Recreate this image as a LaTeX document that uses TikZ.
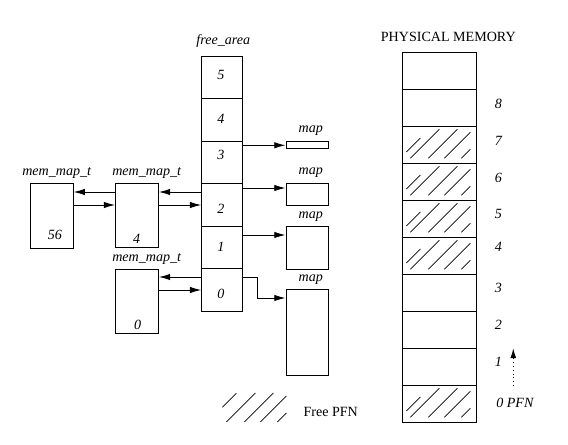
\documentclass[tikz,border=0pt]{standalone}
\usepackage{fontspec}
\setmainfont{Liberation Serif}
\usetikzlibrary{positioning}
\usetikzlibrary{arrows.meta}
\tikzset{
    memnode/.style = {rectangle, draw=black, line width=0.7pt, inner sep=0pt, minimum width=1.07cm, minimum height=1.61cm},
    areanode/.style = {rectangle, draw=black, line width=0.7pt, inner sep=0pt, minimum width=1.03cm, minimum height=1.0625cm},
    mapnode/.style = {rectangle, draw=black, line width=0.7pt, inner sep=0pt, minimum width=1.05cm},
    physnode/.style = {rectangle, draw=black, line width=0.7pt, inner sep=0pt, minimum width=1.86cm, minimum height=0.925cm},
    txt/.style = {inner sep=0pt, anchor=base, font=\itshape},
    txtr/.style = {inner sep=0pt, anchor=base},
    edgen/.style = {-{Latex[length=8pt,width=4.6pt]}, line width=0.7pt, black},
    edged/.style = {-{Latex[length=7pt,width=4.2pt]}, line width=0.7pt, black, dotted},
    hatch/.pic = {\draw[line width=0.5pt] (0,#1) -- (14,#1-14) (4,29) -- (33,0) (22,29) -- (51,0) (38,29) -- (64,3) (55,29) -- (64,20);}
}

\begin{document}
\begin{tikzpicture}[x=0.025cm, y=-0.025cm]
\useasboundingbox (0,0) rectangle (568,445);

% free_area
\node[txt] at (223.3, 45) (fatitle) {free\_area};
\node[areanode] at (222.3, 77.3) (a5) {};
\node[areanode] at (222.3, 119.8) (a4) {};
\node[areanode] at (222.3, 162.3) (a3) {};
\node[areanode] at (222.3, 204.8) (a2) {};
\node[areanode] at (222.3, 247.3) (a1) {};
\node[areanode] at (222.3, 289.8) (a0) {};
\node[txt] at (221, 80) (n5) {5};
\node[txt] at (221, 124) (n4) {4};
\node[txt] at (221, 159.3) (n3) {3};
\node[txt] at (221, 214) (n2) {2};
\node[txt] at (221, 251.7) (n1) {1};
\node[txt] at (221, 298.3) (n0) {0};

% mem_map_t
\node[txt] at (56.7, 176) (t56) {mem\_map\_t};
\node[txt] at (146.7, 176) (t4) {mem\_map\_t};
\node[txt] at (146.7, 261.5) (t0) {mem\_map\_t};
\node[memnode] at (51.7, 215.8) (b56) {};
\node[memnode] at (137, 215.3) (b4) {};
\node[memnode] at (137, 301.3) (b0) {};
\node[txt] at (55, 239.3) (k56) {56};
\node[txt] at (136.7, 244) (k4) {4};
\node[txt] at (137.7, 329.3) (k0) {0};

% map
\node[mapnode, minimum height=0.18cm] at (307, 145.3) (m3) {};
\node[mapnode, minimum height=0.54cm] at (307, 194.2) (m2) {};
\node[mapnode, minimum height=1.065cm] at (307, 248) (m1) {};
\node[mapnode, minimum height=2.125cm] at (307, 332.5) (m0) {};
\node[txt] at (310.8, 132.5) (l3) {map};
\node[txt] at (310.8, 174.5) (l2) {map};
\node[txt] at (310.8, 218.5) (l1) {map};
\node[txt] at (310.8, 281.5) (l0) {map};

% physical memory
\node[txtr] at (448.3, 41.7) (pmtitle) {PHYSICAL MEMORY};
\node[physnode] at (439.5, 70.8) (p9) {};
\node[physnode] at (439.5, 107.8) (p8) {};
\node[physnode] at (439.5, 144.8) (p7) {};
\node[physnode] at (439.5, 181.8) (p6) {};
\node[physnode] at (439.5, 218.8) (p5) {};
\node[physnode] at (439.5, 255.8) (p4) {};
\node[physnode] at (439.5, 292.8) (p3) {};
\node[physnode] at (439.5, 329.8) (p2) {};
\node[physnode] at (439.5, 366.8) (p1) {};
\node[physnode] at (439.5, 403.8) (p0) {};
\pic at (406.3, 129.3) {hatch=22.7};
\pic at (406.3, 166.3) {hatch=22.7};
\pic at (406.3, 203.3) {hatch=22.7};
\pic at (406.3, 240.3) {hatch=22.7};
\pic at (406.3, 388.3) {hatch=22.7};
\node[txt] at (498.3, 108.3) (q8) {8};
\node[txt] at (498.3, 145.7) (q7) {7};
\node[txt] at (498.3, 182.3) (q6) {6};
\node[txt] at (498.3, 218.3) (q5) {5};
\node[txt] at (498.3, 251.7) (q4) {4};
\node[txt] at (498.3, 292.7) (q3) {3};
\node[txt] at (498.3, 330) (q2) {2};
\node[txt] at (498.3, 366.7) (q1) {1};
\node[txt, anchor=base west] at (496, 407.3) (q0) {0 PFN};
\coordinate (pfnbot) at (513.3, 386);
\coordinate (pfntop) at (513.3, 348.3);

% legend
\pic at (222.3, 393) {hatch=14.3};
\node[txtr, anchor=base west] at (303.3, 416.7) (freepfn) {Free PFN};

\draw[edgen] (a3.east |- m3.west) -- (m3.west);
\draw[edgen] (a2.east |- 0,188) -- (m2.west |- 0,188);
\draw[edgen] (a1.east |- 0,235) -- (m1.west |- 0,235);
\draw[edgen] (a0.east |- 0,277) -| (257,298) -- (m0.west |- 0,298);

\draw[edgen] (a2.west |- 0,192) -- (b4.east |- 0,192);
\draw[edgen] (b4.east |- 0,205) -- (a2.west |- 0,205);
\draw[edgen] (b4.west |- 0,192) -- (b56.east |- 0,192);
\draw[edgen] (b56.east |- 0,205) -- (b4.west |- 0,205);
\draw[edgen] (a0.west |- 0,277) -- (b0.east |- 0,277);
\draw[edgen] (b0.east |- 0,290) -- (a0.west |- 0,290);

\draw[edged] (pfnbot) -- (pfntop);
\end{tikzpicture}
\end{document}
